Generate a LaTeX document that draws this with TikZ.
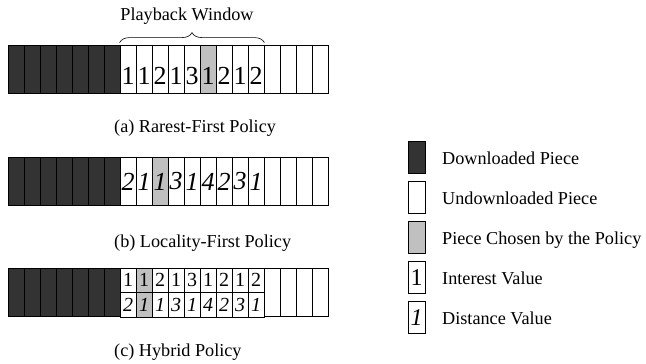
\documentclass[tikz,border=0pt]{standalone}
\usepackage{fontspec}
\setmainfont{Liberation Serif}
\usetikzlibrary{decorations.pathreplacing}
\definecolor{piecedark}{HTML}{333333}
\definecolor{piecegray}{HTML}{C0C0C0}

\begin{document}
\begin{tikzpicture}[x=1pt, y=-1pt,
    cell/.style={draw=black, line width=0.8pt, minimum width=16pt, minimum height=48pt, inner sep=0pt},
    done/.style={cell, fill=piecedark},
    todo/.style={cell, fill=white},
    pick/.style={cell, fill=piecegray},
    half/.style={minimum height=24.5pt},
    key/.style={minimum width=17pt, minimum height=32pt},
    txt/.style={font=\fontsize{18.2}{22}\selectfont, inner sep=0pt}]
    \useasboundingbox (0,0) rectangle (646,364);

    % Rarest-first strip
    \foreach \i in {0,...,6}
        \node[done] (a\i) at (16+16*\i, 69) {};
    \foreach \v/\s [count=\i from 7] in {1/todo,1/todo,2/todo,1/todo,3/todo,1/pick,2/todo,1/todo,2/todo}
        \node[\s, font=\fontsize{26}{26}\selectfont, text height=30pt, text depth=0pt] (a\i) at (16+16*\i, 69) {\v};
    \foreach \i in {16,...,19}
        \node[todo] (a\i) at (16+16*\i, 69) {};
    % Playback window brace
    \draw[decorate, decoration={brace, amplitude=10pt}, line width=0.6pt]
        ([yshift=2pt]a7.north west) -- ([yshift=2pt]a15.north east)
        node[txt, midway, above=18pt, xshift=-5pt] (win) {Playback Window};
    \node[txt, anchor=base west] (capa) at (114, 132) {(a) Rarest-First Policy};

    % Locality-first strip
    \foreach \i in {0,...,6}
        \node[done] (b\i) at (16+16*\i, 181.5) {};
    \foreach \v/\s [count=\i from 7] in {2/todo,1/todo,1/pick,3/todo,1/todo,4/todo,2/todo,3/todo,1/todo}
        \node[\s, font=\itshape\fontsize{26}{26}\selectfont] (b\i) at (16+16*\i, 181.5) {\v};
    \foreach \i in {16,...,19}
        \node[todo] (b\i) at (16+16*\i, 181.5) {};
    \node[txt, anchor=base west] (capb) at (114, 247) {(b) Locality-First Policy};

    % Hybrid strip
    \foreach \i in {0,...,6}
        \node[done] (c\i) at (16+16*\i, 292.5) {};
    \foreach \u/\d/\s [count=\i from 7] in {1/2/todo,1/1/pick,2/1/todo,1/3/todo,3/1/todo,1/4/todo,2/2/todo,1/3/todo,2/1/todo} {
        \node[\s, half, font=\fontsize{20}{20}\selectfont] (cu\i) at (16+16*\i, 280.25) {\u};
        \node[\s, half, font=\itshape\fontsize{20}{20}\selectfont] (cl\i) at (16+16*\i, 304.75) {\d};
    }
    \foreach \i in {16,...,19}
        \node[todo] (c\i) at (16+16*\i, 292.5) {};
    \node[txt, anchor=base west] (capc) at (114, 356) {(c) Hybrid Policy};

    % Legend
    \foreach \s/\t [count=\k] in {done/Downloaded Piece, todo/Undownloaded Piece, pick/Piece Chosen by the Policy} {
        \node[\s, key] (k\k) at (416.5, 117.5+40*\k) {};
        \node[txt, anchor=base west] (t\k) at (442, 124+40*\k) {\t};
    }
    \node[todo, key, font=\fontsize{24}{24}\selectfont] (k4) at (416.5, 277.5) {1};
    \node[txt, anchor=base west] (t4) at (442, 284) {Interest Value};
    \node[todo, key, font=\itshape\fontsize{24}{24}\selectfont] (k5) at (416.5, 317.5) {1};
    \node[txt, anchor=base west] (t5) at (442, 324) {Distance Value};
\end{tikzpicture}
\end{document}
